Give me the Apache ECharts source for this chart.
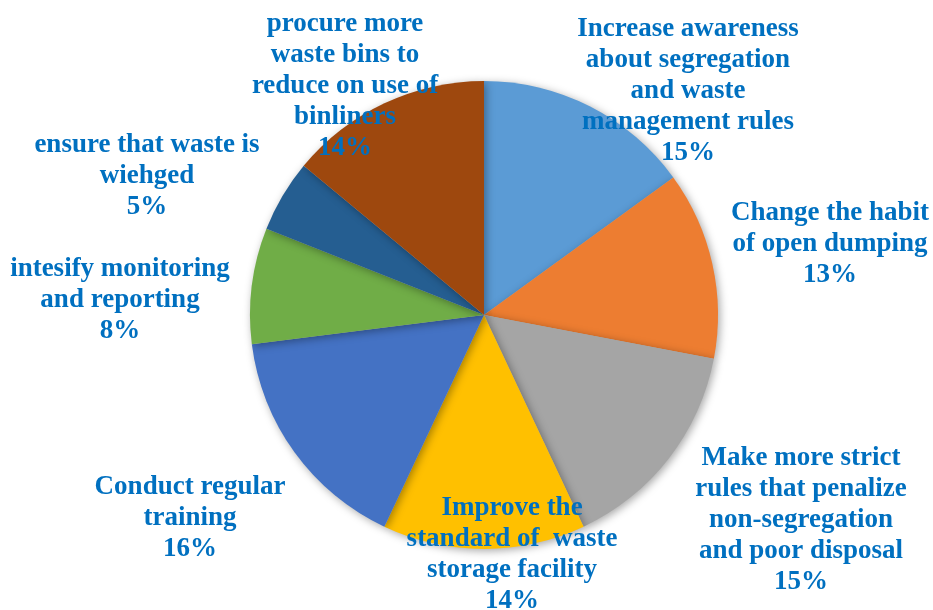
<!DOCTYPE html>
<html>
<head>
<meta charset="utf-8">
<script src="https://cdn.jsdelivr.net/npm/echarts@6/dist/echarts.min.js"></script>
<style>
  html, body { margin: 0; padding: 0; background: #fff; }
  #chart { width: 933px; height: 610px; }
</style>
</head>
<body>
<div id="chart"></div>
<script>
// Suggested measures and their share of responses
const categories = [
  'Increase awareness\nabout segregation\nand waste\nmanagement rules',
  'Change the habit\nof open dumping',
  'Make more strict\nrules that penalize\nnon-segregation\nand poor disposal',
  'Improve the\nstandard of  waste\nstorage facility',
  'Conduct regular\ntraining',
  'intesify monitoring\nand reporting',
  'ensure that waste is\nwiehged',
  'procure more\nwaste bins to\nreduce on use of\nbinliners'
];
const shares = [15, 13, 15, 14, 16, 8, 5, 14];
const sliceColors = ['#5B9BD5', '#ED7D31', '#A5A5A5', '#FFC000', '#4472C4', '#70AD47', '#255E91', '#9E480E'];

// Centre point of each label block, in pixels
const labelAnchors = [
  [688, 91], [830, 244], [801, 520], [512, 555],
  [190, 518], [120, 300], [147, 176], [345, 86]
];

const chart = echarts.init(document.getElementById('chart'), null, { renderer: 'canvas' });

chart.setOption({
  animation: false,
  series: [{
    type: 'pie',
    center: [484, 315],
    radius: 234,
    startAngle: 90,
    clockwise: true,
    data: categories.map((name, i) => ({
      name, value: shares[i],
      itemStyle: { color: sliceColors[i] }
    })),
    itemStyle: {
      shadowBlur: 8,
      shadowColor: 'rgba(0,0,0,0.35)',
      shadowOffsetX: 2,
      shadowOffsetY: 2
    },
    label: {
      show: true,
      position: 'outside',
      alignTo: 'none',
      overflow: 'none',
      width: 400,
      formatter: p => p.name + '\n' + p.value + '%',
      color: '#0070C0',
      fontFamily: '"Liberation Serif", "Times New Roman", serif',
      fontWeight: 'bold',
      fontSize: 27,
      lineHeight: 31,
      align: 'center'
    },
    labelLine: { show: false },
    labelLayout: params => ({
      x: labelAnchors[params.dataIndex][0],
      y: labelAnchors[params.dataIndex][1],
      align: 'center',
      verticalAlign: 'middle'
    })
  }]
});
</script>
</body>
</html>
